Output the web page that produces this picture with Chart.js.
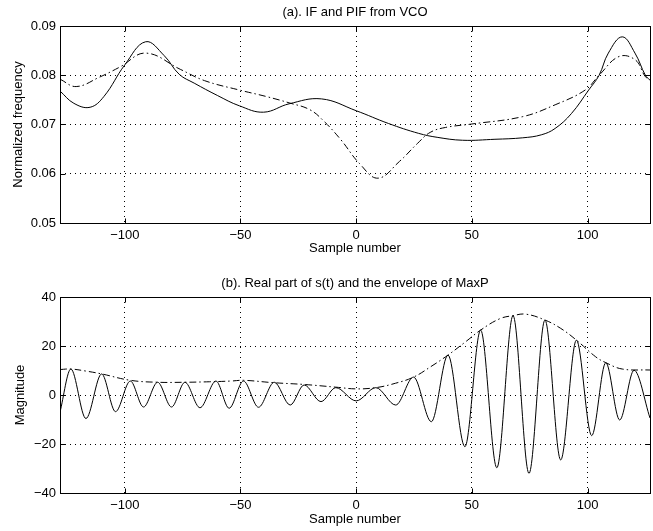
<!DOCTYPE html>
<html>
<head>
<meta charset="utf-8">
<script src="https://cdn.jsdelivr.net/npm/chart.js@4/dist/chart.umd.min.js"></script>
<style>
  body { margin: 0; background: #fff; }
  #wrap { position: relative; width: 653px; height: 531px; }
  canvas { position: absolute; left: 0; }
</style>
</head>
<body>
<div id="wrap">
  <canvas id="plotA" width="653" height="265" style="top:0"></canvas>
  <canvas id="plotB" width="653" height="266" style="top:265px"></canvas>
</div>
<script>
// (a) IF and PIF
const ifSamples = [-128, -122, -115, -109, -100, -91, -83, -76.5, -70, -60, -50.5, -40, -29, -15, 0, 14, 27, 35, 46, 60, 72, 80, 86, 93, 100.5, 105, 109, 115, 120.5, 125, 127];
const ifValues  = [0.0768, 0.0743, 0.0735, 0.0757, 0.0821, 0.0868, 0.0840, 0.0802, 0.0784, 0.0759, 0.0738, 0.0725, 0.0742, 0.0752, 0.0728, 0.0702, 0.0682, 0.0674, 0.0668, 0.0670, 0.0673, 0.0679, 0.0692, 0.0722, 0.0770, 0.0800, 0.0845, 0.0878, 0.0845, 0.0800, 0.0790];

const pifSamples = [-128, -121, -111, -102, -91, -76, -65.5, -50.5, -39, -29, -20, -13.8, -6.6, 1.4, 9.4, 18.7, 26.6, 32, 38.6, 50, 72, 86, 99, 105, 113.6, 120.7, 125, 127];
const pifValues  = [0.0792, 0.0777, 0.0796, 0.0817, 0.0845, 0.0812, 0.0789, 0.0770, 0.0757, 0.0744, 0.0730, 0.0706, 0.0669, 0.0621, 0.0591, 0.0625, 0.0662, 0.0684, 0.0694, 0.0701, 0.0716, 0.0740, 0.0770, 0.0800, 0.0838, 0.0831, 0.0797, 0.0793];

// (b) real part of s(t): peaks and troughs, plus the MaxP envelope
const sigSamples = [-128, -123.3, -116.8, -110, -104, -97.6, -91.9, -85.8, -79.8, -74, -67.5, -60.6, -54.9, -48.7, -42.2, -35.4, -28.5, -22.5, -15.2, -8.8, 0, 8.5, 17.1, 24.8, 32.5, 39.7, 47, 53.8, 60.8, 67.8, 74.7, 81.6, 88.4, 95.2, 101.8, 107.9, 113.9, 120.1, 127];
const sigValues  = [-7, 10.6, -9.6, 8.6, -6.8, 5.7, -4.9, 5.2, -4.9, 5.2, -5.2, 5.7, -5.4, 5.7, -5.0, 5.2, -4.1, 4.1, -2.7, 3.0, -2.4, 3.0, -4.1, 7.3, -10.9, 16.3, -21.1, 26.5, -29.7, 32.4, -32, 30.6, -26.5, 22.4, -16.6, 13.2, -10.2, 10.1, -9.4];

const envSamples = [-128, -123.3, -117, -110, -97.6, -85.8, -74, -63.5, -54, -48.7, -35.4, -22.5, -8.8, 0, 8.5, 17, 24.8, 32.3, 39.7, 47.4, 53.8, 62, 67.8, 73.3, 81.6, 88.4, 95.2, 103.5, 107.9, 115, 127];
const envValues  = [10.4, 10.6, 9.8, 8.6, 6.0, 5.2, 5.2, 5.4, 5.7, 6.0, 5.0, 4.3, 3.2, 2.5, 3.0, 4.8, 7.3, 11.6, 16.3, 21.8, 26.5, 31.1, 32.4, 33.0, 30.6, 27.2, 22.4, 15.6, 13.2, 10.6, 10.2];

const xTicks = [-100, -50, 0, 50, 100];
const freqTicks = [0.05, 0.06, 0.07, 0.08, 0.09];
const magTicks = [-40, -20, 0, 20, 40];

const FONT = '"Liberation Sans", Arial, Helvetica, sans-serif';
Chart.defaults.font.family = FONT;
Chart.defaults.font.size = 13;
Chart.defaults.color = '#000';

const pts = (xs, ys) => xs.map((x, i) => ({ x: x, y: ys[i] }));
const minus = s => String(s).replace('-', '\u2212');

// matlab style box: full frame, inward ticks on all sides, title over the axes
const matlabBox = {
    id: 'matlabBox',
    afterDraw(chart, args, opts) {
        const { ctx, chartArea: a, scales } = chart;
        const px = v => Math.round(v) + 0.5;
        const L = px(a.left), R = px(a.right), T = px(a.top), B = px(a.bottom);
        ctx.save();
        ctx.setLineDash([]);
        ctx.strokeStyle = '#000';
        ctx.lineWidth = 1;
        ctx.strokeRect(L, T, R - L, B - T);
        ctx.beginPath();
        scales.x.ticks.forEach(t => {
            const x = px(scales.x.getPixelForValue(t.value));
            ctx.moveTo(x, B); ctx.lineTo(x, B - 5);
            ctx.moveTo(x, T); ctx.lineTo(x, T + 5);
        });
        scales.y.ticks.forEach(t => {
            const y = px(scales.y.getPixelForValue(t.value));
            ctx.moveTo(L, y); ctx.lineTo(L + 5, y);
            ctx.moveTo(R, y); ctx.lineTo(R - 5, y);
        });
        ctx.stroke();
        ctx.fillStyle = '#000';
        ctx.font = '13px ' + FONT;
        ctx.textAlign = 'center';
        ctx.textBaseline = 'middle';
        ctx.fillText(opts.text, (a.left + a.right) / 2, opts.y);
        ctx.restore();
    }
};

const makePlot = (canvasId, cfg) => {
    return new Chart(document.getElementById(canvasId), {
        type: 'line',
        data: {
            datasets: [{
                data: cfg.solid,
                borderColor: '#000',
                borderWidth: 1,
                pointRadius: 0,
                cubicInterpolationMode: cfg.solidMode,
                tension: 0.4,
            }, {
                data: cfg.dashed,
                borderColor: '#000',
                borderWidth: 1,
                borderDash: [7, 3, 1.5, 3],
                pointRadius: 0,
                cubicInterpolationMode: cfg.dashMode,
                tension: 0.4,
            }],
        },
        options: {
            responsive: false,
            animation: false,
            events: [],
            layout: { padding: { top: cfg.padTop, right: 3, left: 0, bottom: 0 } },
            plugins: {
                legend: { display: false },
                tooltip: { enabled: false },
                matlabBox: { text: cfg.title, y: cfg.titleY },
            },
            scales: {
                x: {
                    type: 'linear',
                    min: -128,
                    max: 127,
                    afterBuildTicks: s => { s.ticks = xTicks.map(v => ({ value: v })); },
                    afterFit: s => { s.height = cfg.xAxisHeight; },
                    grid: { color: '#000', drawTicks: false },
                    border: { display: false, dash: [1, 4] },
                    ticks: { padding: 5, color: '#000', callback: v => minus(v) },
                    title: { display: true, text: 'Sample number', color: '#000', padding: { top: 0, bottom: cfg.xTitlePad } },
                },
                y: {
                    min: cfg.yTicks[0],
                    max: cfg.yTicks[cfg.yTicks.length - 1],
                    afterBuildTicks: s => { s.ticks = cfg.yTicks.map(v => ({ value: v })); },
                    afterFit: s => { s.width = 60; },
                    grid: { color: '#000', drawTicks: false },
                    border: { display: false, dash: [1, 4] },
                    ticks: { padding: 4, color: '#000', callback: cfg.yLabel },
                    title: { display: true, text: cfg.yTitle, color: '#000', padding: { top: cfg.yTitlePad, bottom: 0 } },
                },
            },
        },
        plugins: [matlabBox],
    });
};

makePlot('plotA', {
    solid: pts(ifSamples, ifValues),
    dashed: pts(pifSamples, pifValues),
    solidMode: 'default',
    dashMode: 'default',
    title: '(a). IF and PIF from VCO',
    titleY: 12.5,
    padTop: 26,
    xAxisHeight: 42,
    xTitlePad: 9,
    yTicks: freqTicks,
    yLabel: v => v.toFixed(2),
    yTitle: 'Normalized frequency',
    yTitlePad: 11,
});

makePlot('plotB', {
    solid: pts(sigSamples, sigValues),
    dashed: pts(envSamples, envValues),
    solidMode: 'monotone',
    dashMode: 'default',
    title: '(b). Real part of s(t) and the envelope of MaxP',
    titleY: 18,
    padTop: 32,
    xAxisHeight: 38,
    xTitlePad: 4,
    yTicks: magTicks,
    yLabel: v => minus(v),
    yTitle: 'Magnitude',
    yTitlePad: 13,
});
</script>
</body>
</html>
